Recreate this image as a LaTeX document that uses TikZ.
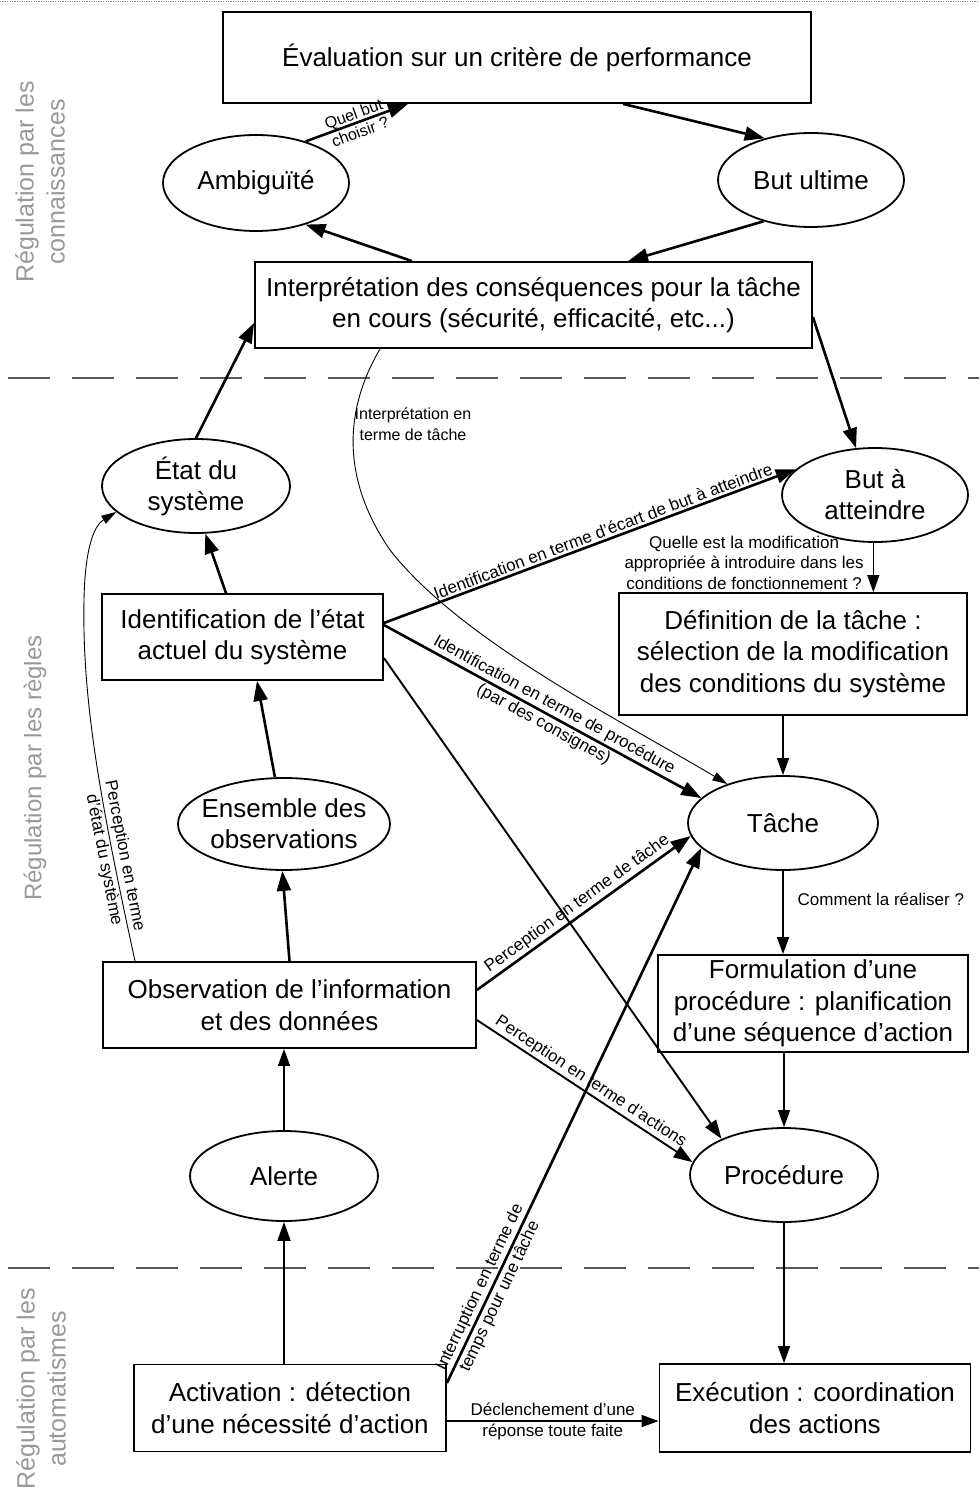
\documentclass[tikz,border=0pt]{standalone}
\usepackage{fontspec}
\setmainfont{Liberation Sans}
\usetikzlibrary{shapes.geometric, arrows.meta, calc}

\begin{document}
\begin{tikzpicture}[x=1pt, y=-1pt,
  box/.style={draw, line width=1.8pt, rectangle, inner sep=2pt, align=center, font=\fontsize{26}{31.5}\selectfont},
  oval/.style={draw, line width=1.8pt, ellipse, inner sep=0pt},
  ovaltext/.style={font=\fontsize{26}{31}\selectfont, align=center, inner sep=0pt},
  small/.style={font=\fontsize{17}{20.5}\selectfont, align=center, inner sep=2pt},
  twoline/.style={font=\fontsize{17}{22}\selectfont, align=center, inner sep=0pt},
  side/.style={font=\fontsize{25}{31}\selectfont, text=black!40, align=center, rotate=90},
  arrA/.style={line width=2.6pt, -{Triangle[length=20pt,width=14pt]}},
  arrB/.style={line width=1.9pt, -{Triangle[length=19pt,width=13pt]}},
  arrC/.style={line width=1.4pt, -{Triangle[length=17pt,width=12pt]}},
  arrD/.style={line width=0.9pt, -{Triangle[length=15pt,width=9pt]}},
  sepline/.style={black!65, line width=1.2pt, dash pattern=on 42pt off 22pt},
]
\useasboundingbox (0,0) rectangle (979,1495);

% frame artefact at top
\coordinate (t1) at (0,1.2);
\coordinate (t2) at (979,1.2);
\draw[black!45, line width=0.8pt, dash pattern=on 1.2pt off 1.2pt] (t1) -- (t2);

% separators
\coordinate (dA1) at (8,378);
\coordinate (dA2) at (979,378);
\coordinate (dB1) at (8,1268);
\coordinate (dB2) at (979,1268);
\draw[sepline] (dA1) -- (dA2);
\draw[sepline] (dB1) -- (dB2);

% side labels
\node[side] (sideA) at (40,182) {Régulation par les\\connaissances};
\node[side, font=\fontsize{24}{30}\selectfont] (sideB) at (35,768) {Régulation par les règles};
\node[side] (sideC) at (41,1389) {Régulation par les\\automatismes};

% boxes
\node[box, minimum width=588pt, minimum height=91pt] (eval) at (517,57.5) {Évaluation sur un critère de performance};
\node[box, minimum width=557pt, minimum height=86pt] (interp) at (533.5,305) {Interprétation des conséquences pour la tâche\\en cours (sécurité, efficacité, etc...)};
\node[box, minimum width=281pt, minimum height=86pt] (ident) at (242.5,637) {Identification de l’état\\actuel du système};
\node[box, minimum width=348pt, minimum height=122pt] (defin) at (793,654) {Définition de la tâche :\\sélection de la modification\\des conditions du système};
\node[box, minimum width=373pt, minimum height=86pt] (observ) at (289.5,1005) {Observation de l’information\\et des données};
\node[box, minimum width=310pt, minimum height=97pt] (formul) at (813,1003.5) {Formulation d’une\\procédure : planification\\d’une séquence d’action};
\node[box, minimum width=312pt, minimum height=87pt] (activ) at (290,1408) {Activation : détection\\d’une nécessité d’action};
\node[box, minimum width=311pt, minimum height=88pt] (exec) at (815,1408) {Exécution : coordination\\des actions};

% ellipses
\node[oval, minimum width=186pt, minimum height=96pt, label={[ovaltext]center:Ambiguïté}] (ambig) at (256,183) {};
\node[oval, minimum width=186pt, minimum height=94pt, label={[ovaltext]center:But ultime}] (butult) at (811,180) {};
\node[oval, minimum width=188pt, minimum height=94pt, label={[ovaltext]center:{État du\\système}}] (etat) at (196,486) {};
\node[oval, minimum width=186pt, minimum height=94pt, label={[ovaltext]center:{But à\\atteindre}}] (butatt) at (875,495) {};
\node[oval, minimum width=212pt, minimum height=92pt, label={[ovaltext]center:{Ensemble des\\observations}}] (ensemble) at (284,824) {};
\node[oval, minimum width=190pt, minimum height=94pt, label={[ovaltext]center:Tâche}] (tache) at (783,823) {};
\node[oval, minimum width=188pt, minimum height=90pt, label={[ovaltext]center:Alerte}] (alerte) at (284,1176) {};
\node[oval, minimum width=188pt, minimum height=94pt, label={[ovaltext]center:Procédure}] (proc) at (784,1175) {};

% top level connectors
\draw[arrA] (ambig.40) -- ([xshift=-109pt]eval.south)
  node[twoline, midway, sloped, font=\fontsize{16}{19}\selectfont] (lq) {Quel but\\choisir ?};
\draw[arrA] ([xshift=106pt]eval.south) -- (butult.138);
\draw[arrA] (butult.221) -- ([xshift=94.5pt]interp.north);
\draw[arrA] ([xshift=-121.5pt]interp.north) -- (ambig.320);
\draw[arrA] (etat.north) -- ([yshift=-18pt]interp.west);
\draw[arrA] ([yshift=-12pt]interp.east) -- (butatt.112);

% left column
\draw[arrA] ([xshift=-16.5pt]ident.north) -- (etat.281);
\draw[arrA] (ensemble.101) -- ([xshift=14.5pt]ident.south);
\draw[arrA] (observ.north) -- (ensemble.268);
\draw[arrC] (alerte.north) -- (alerte.north |- observ.south);
\draw[arrB] (alerte.south |- activ.north) -- (alerte.south);

% crossing connectors
\draw[arrA] ([yshift=14pt]ident.east) -- (butatt.162)
  node[small, pos=0.54, sloped, above] (l1) {Identification en terme d’écart de but à atteindre};
\draw[arrA] ([yshift=12pt]ident.east) -- (tache.163)
  node[twoline, pos=0.52, sloped] (l2) {Identification en terme de procédure\\(par des consignes)};
\draw[arrB] ([yshift=-21pt]ident.east) -- (proc.150);
\draw[arrA] ([yshift=15pt]observ.east) -- (tache.188)
  node[small, pos=0.5, sloped, above] (l3) {Perception en terme de tâche};
\draw[arrB] ([yshift=-15pt]observ.east) -- (proc.172)
  node[small, pos=0.5, sloped, above] (l4) {Perception en terme d’actions};
\draw[arrA] ([yshift=25pt]activ.east) -- (tache.197)
  node[twoline, pos=0.17, sloped] (l5) {Interruption en terme de\\temps pour une tâche};
\draw[arrC] ([yshift=-13pt]activ.east) -- ([yshift=-13pt]exec.west)
  node[twoline, midway, font=\fontsize{17}{21}\selectfont] (l6) {Déclenchement d’une\\réponse toute faite};

% right column
\draw[arrC] (butatt.268) -- (butatt.268 |- defin.north)
  node[small, pos=0.4, left, xshift=-7pt] (l7) {Quelle est la modification\\appropriée à introduire dans les\\conditions de fonctionnement ?};
\draw[arrC] (tache.north |- defin.south) -- (tache.north);
\draw[arrC] (tache.south) -- (tache.south |- formul.north)
  node[small, pos=0.34, anchor=west, xshift=12pt] (l8) {Comment la réaliser ?};
\draw[arrC] (proc.north |- formul.south) -- (proc.north);
\draw[arrC] (proc.south) -- (proc.south |- exec.north);

% curved connectors
\draw[arrD] ([xshift=-153.5pt]interp.south) .. controls (350,400) and (335,470) .. (390,550)
  .. controls (460,640) and (620,720) .. (tache.145);
\node[small, font=\fontsize{16}{21}\selectfont] (l9) at (413,424) {Interprétation en\\terme de tâche};

\draw[arrD] ([xshift=-154.5pt]observ.north) .. controls (100,800) and (82,700) .. (84,600)
  .. controls (85,545) and (95,525) .. (etat.198);
\node[twoline, rotate=-79, font=\fontsize{17}{21}\selectfont] (l10) at (114,858) {Perception en terme\\d’état du système};
\end{tikzpicture}
\end{document}
